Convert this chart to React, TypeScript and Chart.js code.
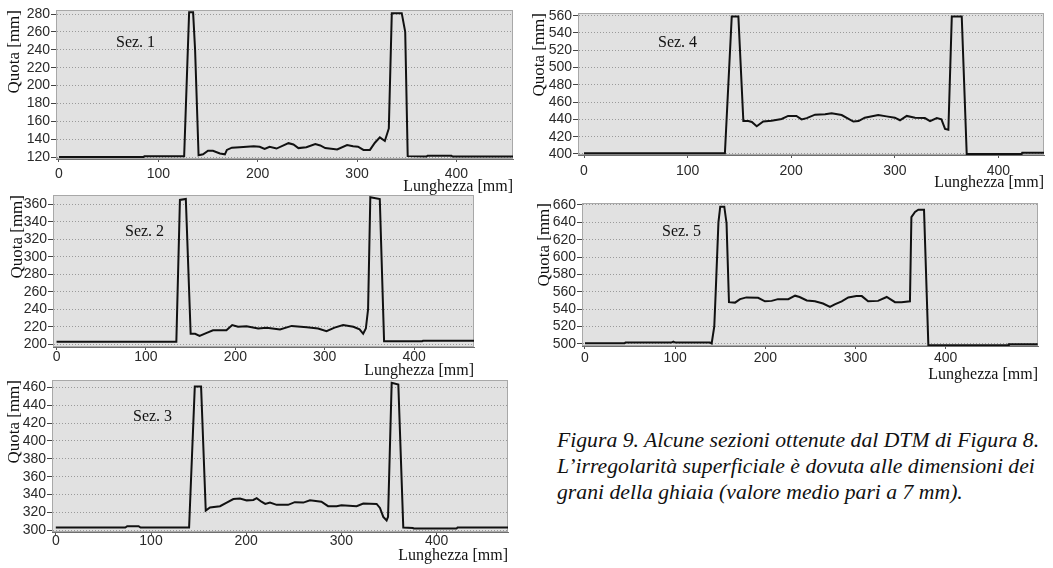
import React, { useEffect, useRef } from "react";
import { Chart, registerables } from "chart.js";

Chart.register(...registerables);

// ---------------- DATA ----------------
const xTicks = [0, 100, 200, 300, 400];
const sectionNames = ["Sez. 1", "Sez. 2", "Sez. 3", "Sez. 4", "Sez. 5"];
const yAxisTitle = "Quota [mm]";
const xAxisTitle = "Lunghezza [mm]";
const captionLines = [
  "Figura 9. Alcune sezioni ottenute dal DTM di Figura 8.",
  "L’irregolarità superficiale è dovuta alle dimensioni dei",
  "grani della ghiaia (valore medio pari a 7 mm).",
];

const sez1YTicks = [120, 140, 160, 180, 200, 220, 240, 260, 280];
const sez1X = [0, 85, 86, 126, 131, 135, 137, 140.5, 145, 150, 155, 162, 167, 169, 174, 182, 196, 202, 207, 212, 219, 226, 231, 236, 241, 249, 258, 263, 268, 280, 290, 296, 301, 306.5, 313, 318, 323, 328, 332, 335, 345, 348.5, 351, 370, 371, 395, 396, 457];
const sez1Y = [120, 120, 121, 121, 282, 282, 240, 122, 123, 127, 127, 124, 123, 128, 130.5, 131, 132, 131.5, 129, 131.5, 129.5, 133, 135.5, 134, 130, 131, 134.5, 133, 130, 128.5, 133.5, 132, 131.5, 128, 128, 136, 142, 138, 152, 281, 281, 260, 121, 120.5, 121.5, 121.5, 120.5, 120.5];

const sez2YTicks = [200, 220, 240, 260, 280, 300, 320, 340, 360];
const sez2X = [0, 134, 138, 144.6, 150, 155, 160, 168, 175, 190, 196.5, 203, 212.5, 225.5, 235, 250, 263, 280, 292.6, 302, 311, 320.6, 332, 339, 343, 346, 348.5, 351, 361.6, 366.4, 409, 410, 467];
const sez2Y = [203, 203, 365, 366, 212, 212, 209.5, 213, 216, 216, 222, 220, 220.5, 218, 219, 217, 221, 219.5, 218, 215, 219, 222, 220, 217, 212, 218, 240, 368, 366, 203.5, 203.5, 204, 204];

const sez3YTicks = [300, 320, 340, 360, 380, 400, 420, 440, 460];
const sez3X = [0, 73, 75, 87, 89, 140, 146, 152.6, 157.5, 162, 172.5, 179.5, 186.5, 193.5, 200.5, 207.5, 211, 216, 220, 225, 232, 244, 251, 260, 267, 279, 286, 295, 300, 316, 323, 337, 340.5, 344, 347.5, 349, 352.8, 359.8, 365, 375, 376, 421, 422, 475];
const sez3Y = [303, 303, 304.5, 304.5, 303, 303, 461, 461, 322, 325.5, 327, 331, 335, 335.5, 333.5, 334, 336, 332, 329.5, 331, 328.5, 328.5, 331.5, 331, 333.5, 332, 327, 327, 328, 327, 330, 329.5, 325, 315, 311, 315, 465, 463, 303, 302.5, 302, 302, 303, 303];

const sez4YTicks = [400, 420, 440, 460, 480, 500, 520, 540, 560];
const sez4X = [0, 136, 142.6, 149, 153.8, 158.6, 162, 166.7, 173, 181, 190.8, 197, 205, 210, 215, 223, 232.7, 239, 248.7, 260, 265, 271, 284, 292, 300, 305, 311.5, 319.5, 329, 334, 340.5, 345, 348.5, 351.7, 355, 364.6, 369.4, 422.5, 423, 444];
const sez4Y = [400.8, 400.8, 559, 559, 438, 438, 437, 432, 437.5, 438.5, 440.5, 444, 444, 440, 441.5, 445.5, 446, 447, 445, 437.5, 438, 442, 445, 443.5, 442, 439, 444, 442, 441.5, 438, 441.5, 440, 429, 428, 559, 559, 400, 400, 401.5, 401.5];

const sez5YTicks = [500, 520, 540, 560, 580, 600, 620, 640, 660];
const sez5X = [0, 44, 45, 96, 98, 100, 138.6, 140.5, 143.4, 145, 148, 150, 154.5, 157, 159.7, 166.4, 172, 179, 192, 199.6, 207, 214, 225.5, 233, 238, 246, 255, 264, 271.7, 277, 284.7, 292, 301, 307, 314, 325, 334.6, 343.8, 351, 360.4, 362, 366, 369.7, 376, 380.8, 469.5, 470, 502];
const sez5Y = [500.8, 500.8, 501.5, 501.5, 502.5, 501.5, 501.5, 500.5, 520, 560, 640, 658, 658, 639, 548, 547.5, 551.5, 553.5, 553, 549, 549.5, 551.5, 551.5, 555.5, 554, 550, 549, 546.5, 542.5, 545.5, 549, 553.5, 555, 555, 549, 549.5, 554, 548, 548, 549, 646, 652, 654.5, 654.5, 498.5, 498.5, 499.5, 499.5];

// ---------------- LAYOUT ----------------
type Rect = { l: number; t: number; r: number; b: number };
interface PanelSpec {
  name: string;
  xs: number[];
  ys: number[];
  yTicks: number[];
  xRange: [number, number];
  yRange: [number, number];
  area: Rect;
  canvas: Rect;
  yTitleX: number;
  xTitleY: number;
  xLabelDelta: number;
  labelDx: number;
  labelDy: number;
}

const panels: PanelSpec[] = [
  {
    name: sectionNames[0], xs: sez1X, ys: sez1Y, yTicks: sez1YTicks,
    xRange: [-3, 457], yRange: [117.8, 284.5],
    area: { l: 56, t: 10, r: 513, b: 159 }, canvas: { l: 0, t: -20, r: 525, b: 200 },
    yTitleX: 15, xTitleY: 187, xLabelDelta: 14.7, labelDx: 60, labelDy: 33,
  },
  {
    name: sectionNames[1], xs: sez2X, ys: sez2Y, yTicks: sez2YTicks,
    xRange: [-4, 467], yRange: [196.9, 370.6],
    area: { l: 53, t: 195, r: 474, b: 347 }, canvas: { l: 0, t: 175, r: 520, b: 385 },
    yTitleX: 18, xTitleY: 371, xLabelDelta: 10.4, labelDx: 72, labelDy: 37,
  },
  {
    name: sectionNames[2], xs: sez3X, ys: sez3Y, yTicks: sez3YTicks,
    xRange: [-4, 475], yRange: [298.1, 468.2],
    area: { l: 52, t: 380, r: 508, b: 532 }, canvas: { l: 0, t: 360, r: 520, b: 575 },
    yTitleX: 15, xTitleY: 556, xLabelDelta: 9, labelDx: 81, labelDy: 37,
  },
  {
    name: sectionNames[3], xs: sez4X, ys: sez4Y, yTicks: sez4YTicks,
    xRange: [-5.8, 444], yRange: [398.8, 563.1],
    area: { l: 578, t: 13, r: 1044, b: 155 }, canvas: { l: 525, t: -20, r: 1053, b: 195 },
    yTitleX: 540, xTitleY: 183, xLabelDelta: 16, labelDx: 80, labelDy: 30,
  },
  {
    name: sectionNames[4], xs: sez5X, ys: sez5Y, yTicks: sez5YTicks,
    xRange: [-3.3, 502.4], yRange: [497.5, 662.3],
    area: { l: 582, t: 203, r: 1038, b: 346 }, canvas: { l: 525, t: 183, r: 1053, b: 385 },
    yTitleX: 545, xTitleY: 375, xLabelDelta: 11.7, labelDx: 80, labelDy: 29,
  },
];

const decorPlugin = {
  id: "decor",
  beforeDraw(chart: any) {
    const { ctx, chartArea: a } = chart;
    ctx.save();
    ctx.fillStyle = "#e1e1e1";
    ctx.fillRect(a.left, a.top, a.right - a.left, a.bottom - a.top);
    ctx.restore();
  },
  beforeDatasetsDraw(chart: any, _args: any, opts: any) {
    const { ctx, chartArea: a } = chart;
    ctx.save();
    ctx.strokeStyle = "#a8a8a8";
    ctx.lineWidth = 1;
    ctx.strokeRect(a.left + 0.5, a.top + 0.5, a.right - a.left - 1, a.bottom - a.top - 1);
    ctx.font = '16px "Liberation Serif", "Times New Roman", serif';
    ctx.fillStyle = "#111";
    ctx.textBaseline = "middle";
    ctx.textAlign = "left";
    ctx.fillText(opts.text, a.left + opts.dx, a.top + opts.dy);
    ctx.restore();
  },
};

function Panel({ spec }: { spec: PanelSpec }) {
  const ref = useRef<HTMLCanvasElement | null>(null);
  const cw = spec.canvas.r - spec.canvas.l;
  const chh = spec.canvas.b - spec.canvas.t;
  useEffect(() => {
    const c = ref.current;
    if (!c) return;
    const yWidth = spec.area.l - spec.canvas.l;
    const xHeight = spec.canvas.b - spec.area.b;
    const tickFont = { family: '"Liberation Sans", Arial, sans-serif', size: 14 };
    const xTickLen = 3;
    const xTickPad = spec.xLabelDelta - xTickLen - 8.4;
    const chart = new Chart(c, {
      type: "line",
      data: {
        datasets: [
          {
            data: spec.xs.map((x, i) => ({ x, y: spec.ys[i] })),
            borderColor: "#111111",
            borderWidth: 2,
            pointRadius: 0,
            tension: 0,
            fill: false,
          },
        ],
      },
      options: {
        animation: false,
        responsive: false,
        maintainAspectRatio: false,
        devicePixelRatio: 1,
        layout: {
          padding: {
            left: 0,
            top: spec.area.t - spec.canvas.t,
            right: spec.canvas.r - spec.area.r,
            bottom: 0,
          },
        },
        plugins: {
          legend: { display: false },
          tooltip: { enabled: false },
          decor: { text: spec.name, dx: spec.labelDx, dy: spec.labelDy },
        } as any,
        scales: {
          x: {
            type: "linear",
            min: spec.xRange[0],
            max: spec.xRange[1],
            afterBuildTicks: (s: any) => {
              s.ticks = xTicks.map((v) => ({ value: v }));
            },
            afterFit: (s: any) => {
              s.height = xHeight;
            },
            grid: { drawOnChartArea: false, drawTicks: true, tickLength: xTickLen, tickColor: "#555" },
            border: { display: true, color: "#6e6e6e", width: 1 },
            ticks: {
              font: tickFont,
              color: "#2a2a2a",
              padding: xTickPad,
              maxRotation: 0,
              autoSkip: false,
            },
            title: {
              display: true,
              text: xAxisTitle,
              align: "end",
              color: "#111",
              font: { family: '"Liberation Serif", "Times New Roman", serif', size: 16 },
              padding: { top: 0, bottom: spec.canvas.b - spec.xTitleY - 9.6 },
            },
          },
          y: {
            type: "linear",
            min: spec.yRange[0],
            max: spec.yRange[1],
            afterBuildTicks: (s: any) => {
              s.ticks = spec.yTicks.map((v) => ({ value: v }));
            },
            afterFit: (s: any) => {
              s.width = yWidth;
            },
            grid: {
              drawOnChartArea: true,
              color: "#9a9a9a",
              lineWidth: 1,
              drawTicks: true,
              tickLength: 5,
              tickColor: "#444",
            },
            border: { display: true, color: "#6e6e6e", width: 1, dash: [1, 2] },
            ticks: { font: tickFont, color: "#2a2a2a", padding: 1, autoSkip: false },
            title: {
              display: true,
              text: yAxisTitle,
              align: "end",
              color: "#111",
              font: { family: '"Liberation Serif", "Times New Roman", serif', size: 17 },
              padding: { top: spec.yTitleX - spec.canvas.l - 10.2, bottom: 0 },
            },
          },
        },
      } as any,
      plugins: [decorPlugin],
    });
    return () => chart.destroy();
  }, []);
  return (
    <canvas
      ref={ref}
      width={cw}
      height={chh}
      style={{ position: "absolute", left: spec.canvas.l, top: spec.canvas.t, width: cw, height: chh }}
    />
  );
}

export default function App() {
  return (
    <div
      style={{
        position: "absolute",
        left: 0,
        top: 0,
        width: 1053,
        height: 568,
        overflow: "hidden",
        background: "#ffffff",
      }}
    >
      {panels.map((p) => (
        <Panel key={p.name} spec={p} />
      ))}
      <div
        style={{
          position: "absolute",
          left: 557,
          top: 427,
          fontFamily: '"Liberation Serif", "Times New Roman", serif',
          fontStyle: "italic",
          fontSize: 21.7,
          lineHeight: "26px",
          color: "#111",
          whiteSpace: "nowrap",
        }}
      >
        {captionLines.map((l) => (
          <div key={l}>{l}</div>
        ))}
      </div>
    </div>
  );
}
